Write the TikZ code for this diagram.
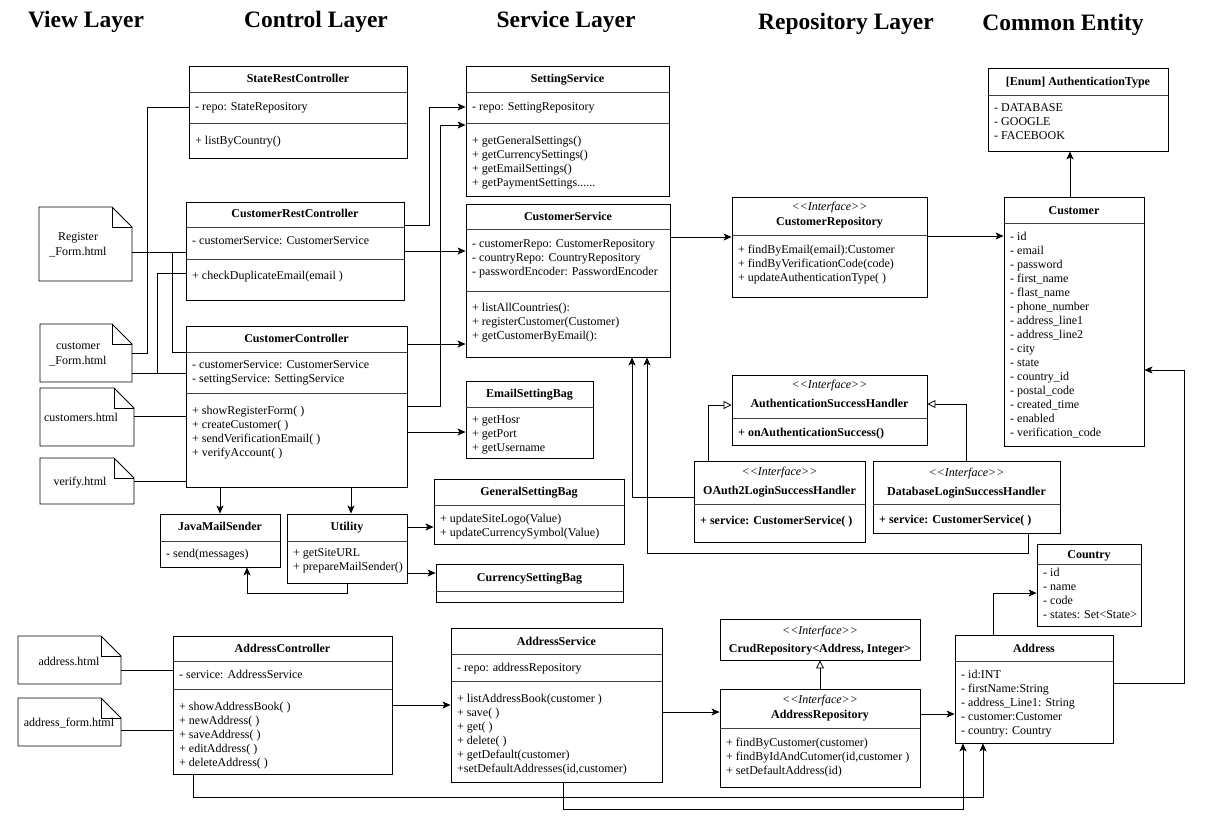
\documentclass[tikz,border=0pt]{standalone}
\usepackage{fontspec}
\setmainfont{Liberation Serif}
\newfontfamily\ser{Liberation Serif}
\usetikzlibrary{arrows.meta,fit,calc}
\newcommand\items[3]{\foreach \t [count=\i from 0] in {#3} {\node[tx] at (#1,{#2+14*\i}) {\t};}}
\newcommand\clsbox[5]{\node[box,fit={(#2,#3)(#4,#5)}] (#1) {};}
\newcommand\sepline[2]{\draw[sepl] (#1.west |- 0,#2) -- (#1.east |- 0,#2);}
\newcommand\docnote[5]{%
  \node[inner sep=0pt,fit={(#2,#3)(#4,#5)}] (#1) {};
  \draw[shp] (#2,#3) -- ({#4-20},#3) -- (#4,{#3+20}) -- (#4,#5) -- (#2,#5) -- cycle;
  \draw[shp] ({#4-20},#3) -- ({#4-20},{#3+20}) -- (#4,{#3+20});}
\begin{document}
\begin{tikzpicture}[x=1pt,y=-1pt,
  box/.style={draw=black,line width=0.9pt,inner sep=0pt,fill=white},
  shp/.style={draw=black,line width=0.9pt},
  sepl/.style={draw=black!75,line width=0.8pt},
  tx/.style={font=\ser\fontsize{12}{14}\selectfont,anchor=mid west,inner sep=0pt,yshift=-1.5pt},
  tb/.style={font=\ser\bfseries\fontsize{12}{14}\selectfont,anchor=mid west,inner sep=0pt,yshift=-1.5pt},
  hd/.style={font=\ser\bfseries\fontsize{12}{14}\selectfont,anchor=mid,inner sep=0pt,yshift=-1.5pt},
  itf/.style={font=\ser\itshape\fontsize{12}{14}\selectfont,anchor=mid,inner sep=0pt,yshift=-1.5pt},
  nt/.style={font=\ser\fontsize{12}{14}\selectfont,anchor=mid,inner sep=0pt,yshift=-1.5pt},
  ttl/.style={font=\ser\bfseries\fontsize{23.5}{28}\selectfont,anchor=mid,inner sep=0pt,yshift=-3.5pt},
  ln/.style={draw=black,line width=0.8pt},
  arr/.style={ln,-{Stealth[length=8pt,width=7pt,inset=2pt]}},
  inh/.style={ln,-{Triangle[open,length=8pt,width=8pt]}}]
\fill[white] (0,0) rectangle (1212,838);
\useasboundingbox (0,0) rectangle (1212,838);

% titles
\node[ttl] (t1) at (86,22) {View Layer};
\node[ttl] (t2) at (316,22) {Control Layer};
\node[ttl] (t3) at (566,22) {Service Layer};
\node[ttl] (t4) at (846,24) {Repository Layer};
\node[ttl] (t5) at (1063,25) {Common Entity};

% ---------- view notes ----------
\docnote{reg}{39}{207}{132}{281}
\node[nt] at (78,237) {Register};
\node[nt] at (78,252) {\_Form.html};
\docnote{cf}{40}{324}{132}{382}
\node[nt] at (78,346) {customer};
\node[nt] at (78,361) {\_Form.html};
\docnote{cuh}{40}{388}{134}{446}
\node[nt] at (81,418) {customers.html};
\docnote{vh}{40}{458}{134}{504}
\node[nt] at (80,482) {verify.html};
\docnote{adh}{18}{636}{121}{684}
\node[nt] at (69,662) {address.html};
\docnote{afh}{18}{698}{121}{746}
\node[nt] at (69,723) {address\_form.html};

% ---------- control layer ----------
\clsbox{src}{189}{66}{407}{158}
\sepline{src}{92}\sepline{src}{123}
\node[hd] at (src.center |- 0,79) {StateRestController};
\node[tx] at (195,107) {- repo: StateRepository};
\node[tx] at (195,141) {+ listByCountry()};

\clsbox{crc}{186}{202}{404}{300}
\sepline{crc}{227}\sepline{crc}{259}
\node[hd] at (crc.center |- 0,214) {CustomerRestController};
\node[tx] at (192,241) {- customerService: CustomerService};
\node[tx] at (192,276) {+ checkDuplicateEmail(email )};

\clsbox{cc}{186}{326}{407}{487}
\sepline{cc}{352}\sepline{cc}{393}
\node[hd] at (cc.center |- 0,339) {CustomerController};
\items{192}{365}{{- customerService: CustomerService},{- settingService: SettingService}}
\items{192}{411}{{+ showRegisterForm( )},{+ createCustomer( )},{+ sendVerificationEmail( )},{+ verifyAccount( )}}

\clsbox{jms}{160}{514}{280}{567}
\sepline{jms}{541}
\node[hd] at (jms.center |- 0,527) {JavaMailSender};
\node[tx] at (166,554) {- send(messages)};

\clsbox{ut}{287}{514}{407}{583}
\sepline{ut}{541}
\node[hd] at (ut.center |- 0,527) {Utility};
\items{293}{553}{{+ getSiteURL},{+ prepareMailSender()}}

\clsbox{ac}{173}{636}{392}{774}
\sepline{ac}{661}\sepline{ac}{689}
\node[hd] at (ac.center |- 0,649) {AddressController};
\node[tx] at (179,675) {- service: AddressService};
\items{179}{707}{{+ showAddressBook( )},{+ newAddress( )},{+ saveAddress( )},{+ editAddress( )},{+ deleteAddress( )}}

% ---------- service layer ----------
\clsbox{ss}{466}{66}{669}{196}
\sepline{ss}{92}\sepline{ss}{123}
\node[hd] at (ss.center |- 0,79) {SettingService};
\node[tx] at (472,107) {- repo: SettingRepository};
\items{472}{141}{{+ getGeneralSettings()},{+ getCurrencySettings()},{+ getEmailSettings()}}
\node[tx] at (472,183) {+ getPaymentSettings......};

\clsbox{cs}{466}{204}{670}{357}
\sepline{cs}{229}\sepline{cs}{291}
\node[hd] at (cs.center |- 0,217) {CustomerService};
\items{472}{244}{{- customerRepo: CustomerRepository},{- countryRepo: CountryRepository},{- passwordEncoder: PasswordEncoder}}
\items{472}{308}{{+ listAllCountries():},{+ registerCustomer(Customer)},{+ getCustomerByEmail():}}

\clsbox{esb}{466}{381}{593}{458}
\sepline{esb}{407}
\node[hd] at (esb.center |- 0,394) {EmailSettingBag};
\items{472}{420}{{+ getHosr},{+ getPort},{+ getUsername}}

\clsbox{gsb}{434}{479}{624}{544}
\sepline{gsb}{505}
\node[hd] at (gsb.center |- 0,492) {GeneralSettingBag};
\items{440}{519}{{+ updateSiteLogo(Value)},{+ updateCurrencySymbol(Value)}}

\clsbox{csb}{436}{564}{623}{602}
\sepline{csb}{591}
\node[hd] at (csb.center |- 0,578) {CurrencySettingBag};

\clsbox{as}{451}{628}{662}{782}
\sepline{as}{654}\sepline{as}{681}
\node[hd] at (as.center |- 0,642) {AddressService};
\node[tx] at (457,668) {- repo: addressRepository};
\items{457}{699}{{+ listAddressBook(customer )},{+ save( )},{+ get( )},{+ delete( )},{+ getDefault(customer)},{+setDefaultAddresses(id,customer)}}

% ---------- repository layer ----------
\clsbox{cr}{732}{197}{927}{297}
\sepline{cr}{235}
\node[itf] at (cr.center |- 0,207) {<<Interface>>};
\node[hd] at (cr.center |- 0,222) {CustomerRepository};
\items{738}{250}{{+ findByEmail(email):Customer},{+ findByVerificationCode(code)},{+ updateAuthenticationType( )}}

\clsbox{ash}{732}{375}{927}{445}
\sepline{ash}{418}
\node[itf] at (ash.center |- 0,385) {<<Interface>>};
\node[hd] at (ash.center |- 0,404) {AuthenticationSuccessHandler};
\node[tb] at (738,433) {+ onAuthenticationSuccess()};

\clsbox{oh}{694}{461}{865}{542}
\sepline{oh}{504}
\node[itf] at (oh.center |- 0,472) {<<Interface>>};
\node[hd] at (oh.center |- 0,491) {OAuth2LoginSuccessHandler};
\node[tb] at (700,521) {+ service: CustomerService( )};

\clsbox{dh}{873}{461}{1060}{533}
\sepline{dh}{504}
\node[itf] at (dh.center |- 0,473) {<<Interface>>};
\node[hd] at (dh.center |- 0,492) {DatabaseLoginSuccessHandler};
\node[tb] at (879,520) {+ service: CustomerService( )};

\clsbox{crud}{720}{619}{920}{660}
\node[itf] at (crud.center |- 0,631) {<<Interface>>};
\node[hd] at (crud.center |- 0,649) {CrudRepository<Address, Integer>};

\clsbox{ar}{720}{689}{920}{787}
\sepline{ar}{728}
\node[itf] at (ar.center |- 0,700) {<<Interface>>};
\node[hd] at (ar.center |- 0,715) {AddressRepository};
\items{726}{743}{{+ findByCustomer(customer)},{+ findByIdAndCutomer(id,customer )},{+ setDefaultAddress(id)}}

% ---------- common entity ----------
\clsbox{at}{988}{68}{1168}{151}
\sepline{at}{95}
\node[hd] at (at.center |- 0,82) {[Enum] AuthenticationType};
\items{994}{108}{{- DATABASE},{- GOOGLE},{- FACEBOOK}}

\clsbox{cu}{1004}{197}{1144}{446}
\sepline{cu}{223}
\node[hd] at (cu.center |- 0,211) {Customer};
\items{1010}{237}{{- id},{- email},{- password},{- first\_name},{- flast\_name},{- phone\_number},{- address\_line1},{- address\_line2},{- city},{- state},{- country\_id},{- postal\_code},{- created\_time},{- enabled},{- verification\_code}}

\clsbox{co}{1037}{544}{1141}{626}
\sepline{co}{564}
\node[hd] at (co.center |- 0,555) {Country};
\items{1043}{573}{{- id},{- name},{- code},{- states: Set<State>}}

\clsbox{ad}{955}{635}{1113}{743}
\sepline{ad}{661}
\node[hd] at (ad.center |- 0,649) {Address};
\items{961}{675}{{- id:INT},{- firstName:String},{- address\_Line1: String},{- customer:Customer},{- country: Country}}

% ---------- connectors ----------
% views -> controllers
\draw[ln] (cf.east |- 0,353) -- (147,353) -- (147,107) -- (src.west |- 0,107);
\draw[ln] (reg.east |- 0,252) -- (crc.west |- 0,252);
\draw[ln] (172,252) -- (172,352) -- (cc.west |- 0,352);
\draw[ln] (cf.east |- 0,373) -- (cc.west |- 0,373);
\draw[ln] (157,373) -- (157,273) -- (crc.west |- 0,273);
\draw[ln] (cuh.east |- 0,416) -- (cc.west |- 0,416);
\draw[ln] (vh.east |- 0,481) -- (cc.west |- 0,481);
\draw[ln] (adh.east |- 0,670) -- (ac.west |- 0,670);
\draw[ln] (afh.east |- 0,730) -- (ac.west |- 0,730);

% controllers -> services
\draw[arr] (crc.east |- 0,225) -- (429,225) -- (429,107) -- (ss.west |- 0,107);
\draw[arr] (cc.east |- 0,406) -- (440,406) -- (440,125) -- (ss.west |- 0,125);
\draw[arr] (crc.east |- 0,251) -- (cs.west |- 0,251);
\draw[arr] (cc.east |- 0,344) -- (cs.west |- 0,344);
\draw[arr] (cc.east |- 0,432) -- (esb.west |- 0,432);
\draw[arr] (cc.south -| 220,0) -- (jms.north -| 220,0);
\draw[arr] (cc.south -| 351,0) -- (ut.north -| 351,0);
\draw[arr] (ut.south -| 347,0) -- (347,593) -- (247,593) -- (jms.south -| 247,0);
\draw[arr] (ut.east |- 0,527) -- (gsb.west |- 0,527);
\draw[arr] (ut.east |- 0,573) -- (csb.west |- 0,573);
\draw[arr] (ac.east |- 0,705) -- (as.west |- 0,705);

% services -> repositories
\draw[arr] (cs.east |- 0,237) -- (cr.west |- 0,237);
\draw[arr] (as.east |- 0,712) -- (ar.west |- 0,712);
\draw[arr] (oh.west |- 0,497) -- (632,497) -- (cs.south -| 632,0);
\draw[arr] (dh.south -| 1028,0) -- (1028,553) -- (647,553) -- (cs.south -| 647,0);
\draw[inh] (oh.north -| 708,0) -- (708,405) -- (ash.west |- 0,405);
\draw[inh] (dh.north -| 966,0) -- (966,404) -- (ash.east |- 0,404);
\draw[inh] (ar.north) -- (crud.south);

% repositories -> entities
\draw[arr] (cr.east |- 0,236) -- (cu.west |- 0,236);
\draw[arr] (cu.north -| 1070,0) -- (at.south -| 1070,0);
\draw[arr] (ar.east |- 0,714) -- (ad.west |- 0,714);
\draw[arr] (ad.east |- 0,683) -- (1184,683) -- (1184,370) -- (cu.east |- 0,370);
\draw[arr] (ad.north -| 993,0) -- (993,593) -- (co.west |- 0,593);
\draw[arr] (ac.south -| 193,0) -- (193,797) -- (983,797) -- (ad.south -| 983,0);
\draw[arr] (as.south -| 563,0) -- (563,809) -- (963,809) -- (ad.south -| 963,0);
\end{tikzpicture}
\end{document}
